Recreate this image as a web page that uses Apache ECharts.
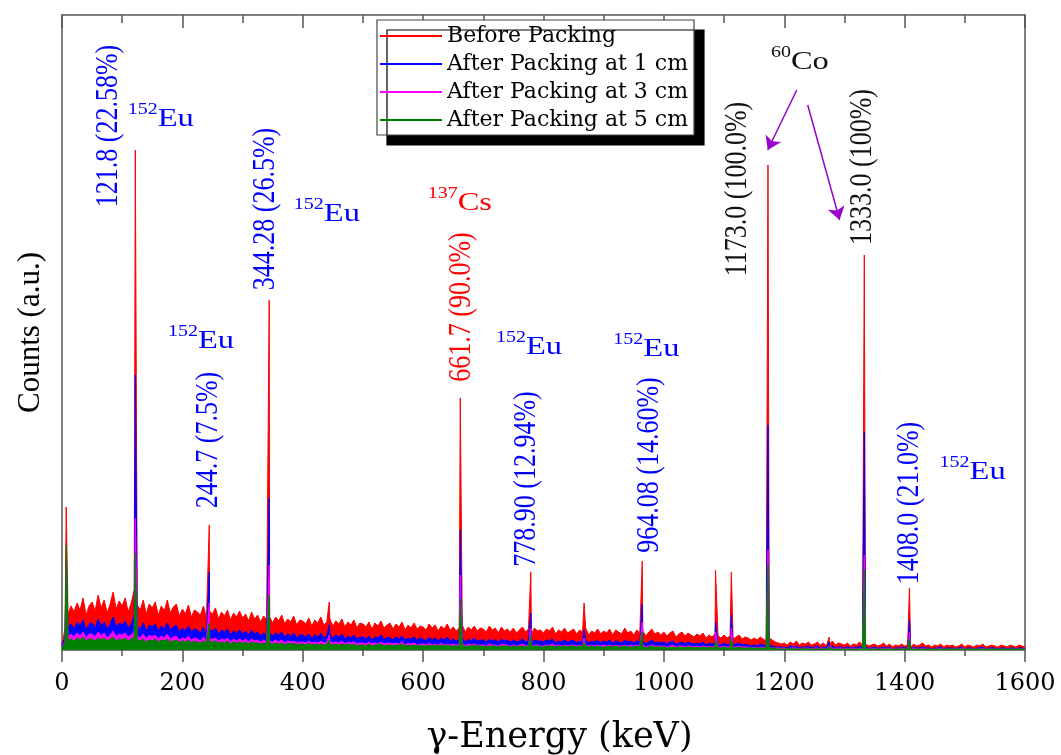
<!DOCTYPE html>
<html><head><meta charset="utf-8">
<script src="https://cdn.jsdelivr.net/npm/echarts@6/dist/echarts.min.js"></script>
<style>html,body{margin:0;padding:0;background:#fff}#c{width:1061px;height:755px}</style>
</head><body><div id="c"></div>
<script>
// ---------------- DATA ----------------
const seriesNames = ['Before Packing', 'After Packing at 1 cm', 'After Packing at 3 cm', 'After Packing at 5 cm'];
const energyStep = 5; // keV between continuum samples, starting at 0 keV
const xTickValues = [0, 200, 400, 600, 800, 1000, 1200, 1400, 1600];

const redContinuum = [
 4,22,36,44,38,47,40,52,35,44, 48,39,55,42,50,37,46,58,41,49, 44,52,38,47,60,45,40,50,36,46,
 42,48,35,44,39,50,37,43,46,34, 41,36,45,33,40,38,35,44,32,39, 36,42,31,38,34,40,30,37,33,39,
 32,36,29,38,31,35,28,34,30,33, 27,33,29,35,26,31,28,34,25,30, 29,26,32,24,30,27,33,25,28,31,
 24,29,26,31,23,28,25,30,22,27, 26,23,28,21,27,24,29,22,25,27, 21,26,23,28,20,25,22,27,21,24,
 23,20,26,22,25,19,24,21,26,20, 23,19,22,25,18,23,20,24,19,22, 21,18,24,20,22,17,23,19,21,18,
 22,17,20,23,18,21,16,22,19,20, 17,21,19,23,16,20,18,22,17,19, 21,16,20,18,22,15,19,17,21,16,
 19,17,21,15,20,18,16,22,17,19, 15,20,17,19,14,18,21,16,18,15, 18,14,17,19,13,16,18,14,17,15,
 13,16,14,17,12,15,13,16,14,12, 15,12,14,11,13,15,11,13,12,10, 12,10,13,11,9,12,10,8,7,6,
 7,5,8,6,9,5,7,6,8,5, 6,8,5,7,4,6,9,5,7,6, 5,7,4,6,5,8,5,6,4,5,
 6,4,5,7,4,6,3,5,4,6, 4,5,3,6,4,5,7,4,5,3, 5,4,6,3,5,4,5,3,4,6,
 3,5,4,3,5,4,6,3,4,5, 4,3,5,4,3,5,4,3,5,4, 3
];
const blueContinuum = [
 3,14,22,26,21,28,24,30,20,26, 27,22,31,24,28,21,26,33,23,27, 25,29,22,26,34,24,21,27,19,25,
 23,26,19,24,21,27,20,23,25,18, 22,19,24,18,21,20,17,23,16,20, 19,22,16,20,18,21,15,19,17,20,
 16,19,15,20,16,18,14,17,15,17, 14,17,15,18,13,16,14,17,12,15, 15,13,16,12,15,13,17,12,14,16,
 12,15,13,16,11,14,12,15,11,13, 13,11,14,10,13,12,15,11,12,13, 10,13,11,14,10,12,11,13,10,12,
 11,9,13,10,12,9,12,10,13,9, 11,9,10,12,8,11,9,12,9,10, 10,8,11,9,10,8,11,9,10,8,
 10,8,9,11,8,10,7,10,9,9, 8,10,9,11,7,9,8,10,8,9, 10,7,9,8,10,7,9,8,10,7,
 9,8,10,7,9,8,7,10,8,9, 7,9,8,9,6,8,10,7,8,7, 8,6,8,9,6,7,8,6,8,7,
 6,7,6,8,5,7,6,7,6,5, 7,5,6,5,6,7,5,6,5,4, 5,4,6,5,4,5,4,3,3,3,
 3,2,4,3,4,2,3,3,4,2, 3,4,2,3,2,3,4,2,3,3, 2,3,2,3,2,4,2,3,2,2,
 3,2,2,3,2,3,1,2,2,3, 2,2,1,3,2,2,3,2,2,1, 2,2,3,1,2,2,2,1,2,3,
 1,2,2,1,2,2,3,1,2,2, 2,1,2,2,1,2,2,1,2,2, 1
];
const magentaContinuum = [
 2,9,14,16,13,17,14,18,12,16, 16,13,18,14,17,12,15,19,13,16, 15,17,13,15,19,14,12,16,11,15,
 13,15,11,14,12,16,11,13,14,10, 12,11,14,10,12,11,9,13,9,11, 11,12,9,11,10,12,8,11,9,11,
 9,11,8,11,9,10,8,10,8,9, 8,10,8,10,7,9,8,9,7,8, 8,7,9,7,8,7,9,7,8,9,
 7,8,7,9,6,8,7,8,6,7, 7,6,8,6,7,6,8,6,7,7, 6,7,6,8,5,7,6,7,5,6,
 6,5,7,5,6,5,7,5,6,5, 6,5,6,7,4,6,5,6,5,5, 5,4,6,5,5,4,6,5,5,4,
 5,4,5,6,4,5,4,5,5,4, 4,5,5,6,4,5,4,5,4,5, 5,4,5,4,5,4,5,4,5,4,
 5,4,5,4,5,4,4,5,4,5, 4,5,4,5,3,4,5,4,4,4, 4,3,4,5,3,4,4,3,4,4,
 3,4,3,4,3,4,3,4,3,3, 4,3,3,3,3,4,3,3,3,2, 3,2,3,3,2,3,2,2,2,2,
 2,1,2,2,2,1,2,2,2,1, 2,2,1,2,1,2,2,1,2,2, 1,2,1,2,1,2,1,2,1,1,
 2,1,1,2,1,2,1,1,1,2, 1,1,1,2,1,1,2,1,1,1, 1,1,2,1,1,1,1,1,1,2,
 1,1,1,1,1,1,2,1,1,1, 1,1,1,1,1,1,1,1,1,1, 1
];
const greenContinuum = [
 2,7,10,11,9,12,10,13,9,11, 11,9,12,10,12,9,11,13,9,11, 10,12,9,11,13,10,9,11,8,10,
 9,11,8,10,9,11,8,9,10,8, 9,8,10,7,9,8,7,9,7,8, 8,9,7,8,7,9,6,8,7,8,
 7,8,6,8,7,7,6,7,6,7, 6,7,6,7,5,7,6,7,5,6, 6,5,7,5,6,5,6,5,6,6,
 5,6,5,6,5,6,5,6,4,5, 5,4,6,4,5,5,6,4,5,5, 4,5,5,6,4,5,4,5,4,5,
 4,4,5,4,5,4,5,4,5,4, 4,4,4,5,3,4,4,5,4,4, 4,3,4,4,4,3,4,4,4,3,
 4,3,4,4,3,4,3,4,4,3, 3,4,4,4,3,4,3,4,3,4, 4,3,4,3,4,3,4,3,4,3,
 3,3,4,3,4,3,3,4,3,3, 3,4,3,3,2,3,4,3,3,3, 3,2,3,3,2,3,3,2,3,3,
 2,3,2,3,2,3,2,3,2,2, 3,2,2,2,2,3,2,2,2,2, 2,2,2,2,2,2,2,2,1,1,
 1,1,2,1,1,1,1,2,1,1, 1,1,1,1,1,1,1,1,1,1, 1,1,1,1,1,1,1,1,1,1,
 1,1,1,1,1,1,1,1,1,1, 1,1,1,1,1,1,1,1,1,1, 1,1,1,1,1,1,1,1,1,1,
 1,1,1,1,1,1,1,1,1,1, 1,1,1,1,1,1,1,1,1,1, 1
];

// photopeak energies (keV) and peak heights (a.u.) per series
const peakEnergies = [7, 121.8, 244.7, 344.28, 444, 661.7, 778.9, 867.4, 964.08, 1085.8, 1112.1, 1173.0, 1274.5, 1333.0, 1408.0];
const redPeaks     = [143, 500, 125, 350, 48, 252, 78, 47, 89, 80, 78, 485, 13, 395, 62];
const bluePeaks    = [90, 275, 78, 152, 25, 120, 37, 20, 46, 28, 35, 225, 8, 218, 30];
const magentaPeaks = [80, 132, 47, 85, 15, 75, 22, 12, 28, 18, 22, 100, 4, 95, 18];
const greenPeaks   = [105, 97, 27, 55, 10, 52, 15, 8, 18, 10, 12, 85, 3, 80, 12];

// annotation texts
const lineLabels = ['121.8 (22.58%)', '244.7 (7.5%)', '344.28 (26.5%)', '661.7 (90.0%)', '778.90 (12.94%)', '964.08 (14.60%)', '1173.0 (100.0%)', '1333.0 (100%)', '1408.0 (21.0%)'];
const nuclideLabels = [['152', 'Eu'], ['152', 'Eu'], ['152', 'Eu'], ['137', 'Cs'], ['152', 'Eu'], ['152', 'Eu'], ['152', 'Eu'], ['60', 'Co']];

// ---------------- LAYOUT / STYLE ----------------
const colors = ['#ff0000', '#0000ff', '#ff00ff', '#008000'];
const Y_MAX = 635;
// anchors in data space [keV, a.u.] for annotation centres
const lineLabelAnchors = [[77, 524], [243.6, 210], [338, 441], [664, 343], [772, 171], [976.4, 185], [1122.6, 461], [1330.5, 483], [1408.6, 147]];
const lineLabelColors = ['#0000ff', '#0000ff', '#0000ff', '#ff0000', '#0000ff', '#0000ff', '#111111', '#111111', '#0000ff'];
const nuclideAnchors = [[164, 533], [231, 311], [440, 438], [661, 449], [776, 305], [971, 303], [1513, 180], [1226, 590]];
const nuclideColors = ['#0000ff', '#0000ff', '#0000ff', '#ff0000', '#0000ff', '#0000ff', '#0000ff', '#111111'];

function buildSeries(cont, peaks) {
  const pts = cont.map((v, i) => [i * energyStep, v]);
  peakEnergies.forEach((e, k) => pts.push([e, peaks[k]]));
  pts.sort((a, b) => a[0] - b[0]);
  return pts;
}
const allData = [
  buildSeries(redContinuum, redPeaks),
  buildSeries(blueContinuum, bluePeaks),
  buildSeries(magentaContinuum, magentaPeaks),
  buildSeries(greenContinuum, greenPeaks)
];

const chart = echarts.init(document.getElementById('c'), null, {renderer: 'canvas'});
const axisLineStyle = {color: '#555', width: 1.5};
const FONT_AXIS = 'DejaVu Serif';
const series = allData.map((d, i) => ({
  name: seriesNames[i],
  type: 'line',
  data: d,
  symbol: 'none',
  showSymbol: false,
  lineStyle: {color: colors[i], width: 1},
  itemStyle: {color: colors[i]},
  areaStyle: {color: colors[i], opacity: 1},
  animation: false,
  silent: true,
  z: 2 + i
}));
series[3].markLine = {
  silent: true,
  symbol: ['none', 'arrow'],
  symbolSize: 13,
  label: {show: false},
  animation: false,
  lineStyle: {color: '#9900cc', width: 1.5, type: 'solid'},
  data: [
    [{coord: [1220.8, 560]}, {coord: [1172.6, 500]}],
    [{coord: [1239, 545]}, {coord: [1292, 430]}]
  ]
};

chart.setOption({
  animation: false,
  backgroundColor: '#ffffff',
  grid: {left: 62, right: 36, top: 15, bottom: 105, containLabel: false, outerBoundsMode: 'none'},
  legend: {
    data: seriesNames,
    orient: 'vertical',
    left: 377, top: 20,
    icon: 'rect',
    itemWidth: 62, itemHeight: 2, itemGap: 4,
    padding: [4, 6, 3, 3],
    backgroundColor: '#ffffff',
    borderColor: '#444', borderWidth: 1.2,
    shadowColor: '#000000', shadowBlur: 0, shadowOffsetX: 10, shadowOffsetY: 10,
    textStyle: {fontFamily: FONT_AXIS, fontSize: 22, color: '#000', lineHeight: 24},
    selectedMode: false
  },
  xAxis: [{
    type: 'value', min: 0, max: 1600, interval: 200,
    position: 'bottom',
    name: 'γ-Energy (keV)', nameLocation: 'middle', nameGap: 70,
    nameTextStyle: {fontFamily: FONT_AXIS, fontSize: 35, color: '#000', padding: [0, 0, 0, 32]},
    axisLine: {show: true, onZero: false, lineStyle: axisLineStyle},
    axisTick: {show: true, inside: false, length: 12, lineStyle: axisLineStyle},
    minorTick: {show: true, splitNumber: 2, length: 6, lineStyle: axisLineStyle},
    axisLabel: {fontFamily: FONT_AXIS, fontSize: 24, color: '#000', margin: 22,
      formatter: v => xTickValues.includes(v) ? String(v) : ''},
    splitLine: {show: false}
  }, {
    type: 'value', min: 0, max: 1600, interval: 200,
    position: 'top',
    axisLine: {show: true, onZero: false, lineStyle: axisLineStyle},
    axisTick: {show: true, inside: true, length: 13, lineStyle: axisLineStyle},
    minorTick: {show: true, splitNumber: 2, length: 8, lineStyle: axisLineStyle},
    axisLabel: {show: false},
    splitLine: {show: false}
  }],
  yAxis: [{
    type: 'value', min: 0, max: Y_MAX,
    position: 'left',
    name: 'Counts (a.u.)', nameLocation: 'middle', nameGap: 16,
    nameTextStyle: {fontFamily: 'Liberation Serif', fontSize: 31, color: '#000'},
    axisLine: {show: true, onZero: false, lineStyle: axisLineStyle},
    axisTick: {show: false}, axisLabel: {show: false}, splitLine: {show: false}
  }, {
    type: 'value', min: 0, max: Y_MAX,
    position: 'right',
    axisLine: {show: true, onZero: false, lineStyle: axisLineStyle},
    axisTick: {show: false}, axisLabel: {show: false}, splitLine: {show: false}
  }],
  series: series
});

// annotations placed through the axes' own scales
const graphics = [];
lineLabels.forEach((t, i) => {
  const p = chart.convertToPixel({xAxisIndex: 0, yAxisIndex: 0}, lineLabelAnchors[i]);
  graphics.push({
    type: 'text', x: p[0], y: p[1], rotation: Math.PI / 2, scaleY: 1.2, z: 100, silent: true,
    style: {text: t, x: 0, y: 0, fill: lineLabelColors[i], font: '26px "Liberation Serif"', textAlign: 'center', textVerticalAlign: 'middle'}
  });
});
nuclideLabels.forEach((pair, i) => {
  const p = chart.convertToPixel({xAxisIndex: 0, yAxisIndex: 0}, nuclideAnchors[i]);
  const c = nuclideColors[i];
  graphics.push({
    type: 'text', x: p[0], y: p[1], scaleX: 1.25, z: 100, silent: true,
    style: {
      text: '{s|' + pair[0] + '}{b|' + pair[1] + '}', x: 0, y: 0,
      textAlign: 'center', textVerticalAlign: 'middle',
      rich: {
        s: {fill: c, fontFamily: 'Liberation Serif', fontSize: 16, lineHeight: 30, verticalAlign: 'top'},
        b: {fill: c, fontFamily: 'Liberation Serif', fontSize: 26, lineHeight: 30, verticalAlign: 'bottom'}
      }
    }
  });
});
chart.setOption({graphic: graphics});
</script>
</body></html>
